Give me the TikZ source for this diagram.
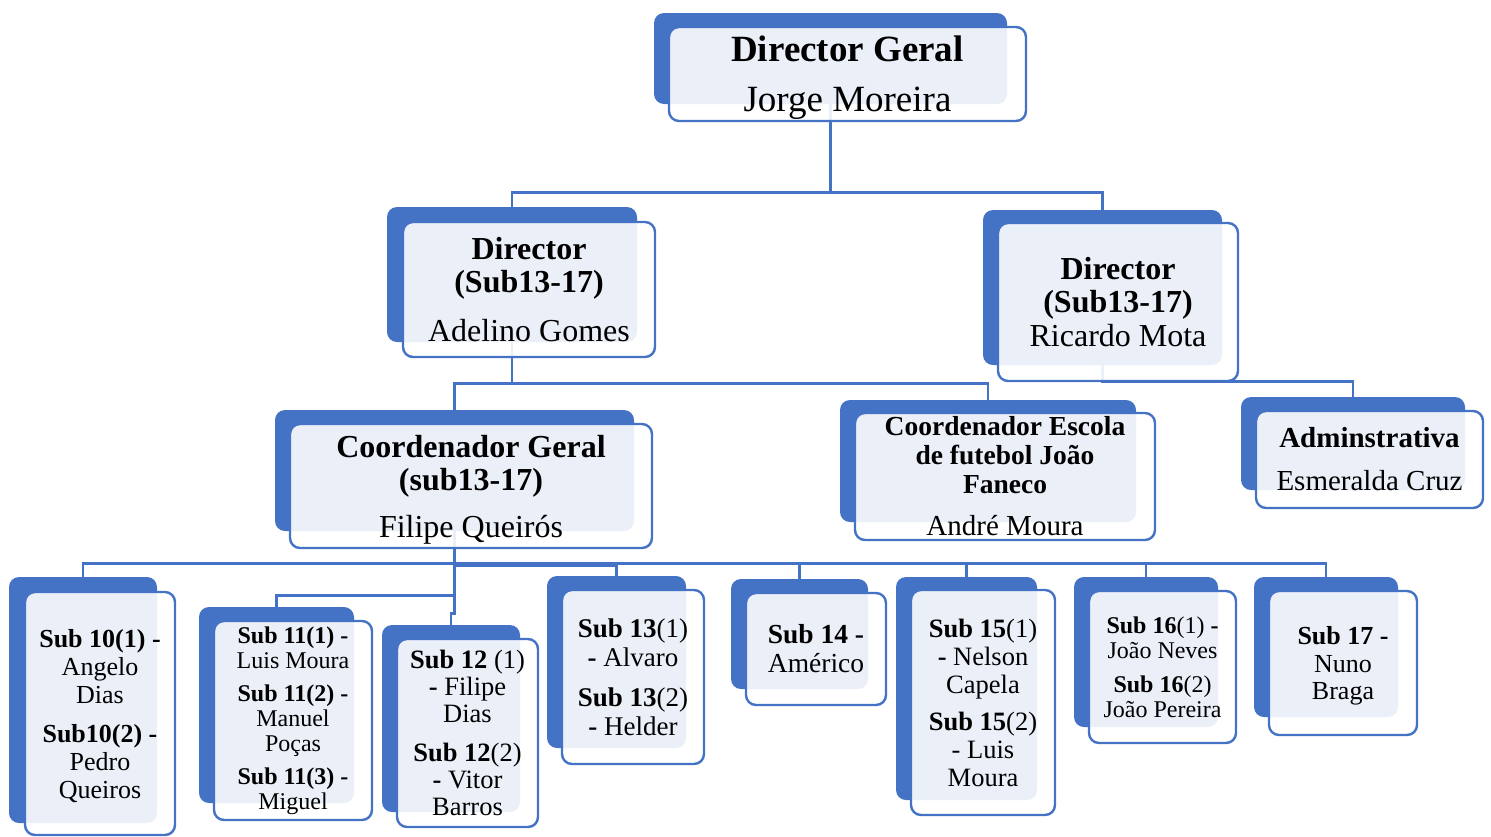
\documentclass[tikz,border=0pt]{standalone}
\usepackage{fontspec}
\setmainfont{Liberation Serif}
\usetikzlibrary{backgrounds}
\definecolor{orgblue}{HTML}{4472C4}

\begin{document}
\begin{tikzpicture}[x=0.5pt,y=-0.5pt,
    backbox/.style={fill=orgblue, rounded corners=5pt, inner sep=0pt},
    textbox/.style={draw=orgblue, line width=1.2pt, fill=white, fill opacity=0.89,
        text opacity=1, rounded corners=5pt, align=center, inner sep=0pt},
    link/.style={draw=orgblue, line width=1.2pt}]
    \useasboundingbox (0,0) rectangle (1491,836);

    % top level
    \node [backbox, minimum width=176.5pt, minimum height=45.5pt] (dg) at (830.5,58.5) {};
    \node [textbox, minimum width=178.5pt, minimum height=47pt, text depth=0pt, font=\fontsize{18.5}{22}\selectfont] (dg-t) at (847.5,74)
        {\textbf{Director Geral}\\[3pt] Jorge Moreira};

    % directors
    \node [backbox, minimum width=125pt, minimum height=67.5pt] (ad) at (512,274.5) {};
    \node [textbox, minimum width=126pt, minimum height=67.5pt, font=\fontsize{16}{16.5}\selectfont] (ad-t) at (529,289.5)
        {\textbf{Director}\\ \textbf{(Sub13-17)}\\[8pt] Adelino Gomes};
    \node [backbox, minimum width=119.5pt, minimum height=77.5pt] (rm) at (1102.5,287.5) {};
    \node [textbox, minimum width=120pt, minimum height=79pt, font=\fontsize{16}{16.75}\selectfont] (rm-t) at (1118,302)
        {\textbf{Director}\\ \textbf{(Sub13-17)}\\ Ricardo Mota};

    % coordinators
    \node [backbox, minimum width=179.5pt, minimum height=60.5pt] (cg) at (454.5,470.5) {};
    \node [textbox, minimum width=181pt, minimum height=62pt, text depth=0pt, font=\fontsize{16}{16.5}\selectfont] (cg-t) at (471,486)
        {\textbf{Coordenador Geral}\\ \textbf{(sub13-17)}\\[7pt] Filipe Queirós};
    \node [backbox, minimum width=148pt, minimum height=61pt] (ce) at (988,461) {};
    \node [textbox, minimum width=150pt, minimum height=63.5pt, font=\fontsize{13.75}{14.5}\selectfont] (ce-t) at (1005,476.5)
        {\textbf{Coordenador Escola}\\ \textbf{de futebol João}\\ \textbf{Faneco}\\[6.5pt] {\fontsize{14.5}{14.5}\selectfont André Moura}};
    \node [backbox, minimum width=112pt, minimum height=46.5pt] (adm) at (1353,443.5) {};
    \node [textbox, minimum width=113.5pt, minimum height=48.5pt, font=\fontsize{14.5}{15}\selectfont] (adm-t) at (1369.5,459.5)
        {\textbf{Adminstrativa}\\[6.5pt] Esmeralda Cruz};

    % age groups
    \node [backbox, minimum width=74pt, minimum height=123pt] (s10) at (83,700) {};
    \node [textbox, minimum width=75pt, minimum height=121.5pt, text depth=0pt, font=\fontsize{13}{14}\selectfont] (s10-t) at (100,713.5)
        {\textbf{Sub 10(1) -}\\ Angelo\\ Dias\\[5.5pt] \textbf{Sub10(2) -}\\ Pedro\\ Queiros};
    \node [backbox, minimum width=77.5pt, minimum height=98pt] (s11) at (276.5,705) {};
    \node [textbox, minimum width=79pt, minimum height=99.5pt, font=\fontsize{12}{12.5}\selectfont] (s11-t) at (293,720.5)
        {\textbf{Sub 11(1) -}\\ Luis Moura\\[4pt] \textbf{Sub 11(2) -}\\ Manuel\\ Poças\\[4pt] \textbf{Sub 11(3) -}\\ Miguel};
    \node [backbox, minimum width=69pt, minimum height=93.5pt] (s12) at (451,718.5) {};
    \node [textbox, minimum width=70.5pt, minimum height=94pt, font=\fontsize{13.25}{13.5}\selectfont] (s12-t) at (467.5,733)
        {\textbf{Sub 12} (1)\\ \textbf{-} Filipe\\ Dias\\[6pt] \textbf{Sub 12}(2)\\ \textbf{-} Vitor\\ Barros};
    \node [backbox, minimum width=69.5pt, minimum height=86pt] (s13) at (616.5,662) {};
    \node [textbox, minimum width=71pt, minimum height=87pt, font=\fontsize{13.5}{14.5}\selectfont] (s13-t) at (633,677)
        {\textbf{Sub 13}(1)\\ \textbf{-} Alvaro\\[5.5pt] \textbf{Sub 13}(2)\\ \textbf{-} Helder};
    \node [backbox, minimum width=68.5pt, minimum height=55pt] (s14) at (799.5,634) {};
    \node [textbox, minimum width=70pt, minimum height=56pt, font=\fontsize{13.75}{14.5}\selectfont] (s14-t) at (816,649)
        {\textbf{Sub 14 -}\\ Américo};
    \node [backbox, minimum width=70.5pt, minimum height=111.5pt] (s15) at (966.5,688.5) {};
    \node [textbox, minimum width=72pt, minimum height=112.5pt, font=\fontsize{13.25}{14}\selectfont] (s15-t) at (983,702.5)
        {\textbf{Sub 15}(1)\\ \textbf{-} Nelson\\ Capela\\[4.5pt] \textbf{Sub 15}(2)\\ - Luis\\ Moura};
    \node [backbox, minimum width=72pt, minimum height=75pt] (s16) at (1146,652) {};
    \node [textbox, minimum width=73.5pt, minimum height=76pt, font=\fontsize{12}{12.5}\selectfont] (s16-t) at (1162.5,667)
        {\textbf{Sub 16}(1) \textbf{-}\\ João Neves\\[4.5pt] \textbf{Sub 16}(2)\\ João Pereira};
    \node [backbox, minimum width=72pt, minimum height=70pt] (s17) at (1326,647) {};
    \node [textbox, minimum width=74pt, minimum height=72pt, text depth=0pt, font=\fontsize{13}{13.75}\selectfont] (s17-t) at (1343,663)
        {\textbf{Sub 17 -}\\ Nuno\\ Braga};

    % connectors behind the boxes
    \begin{pgfonlayer}{background}
        \draw [link] (dg.south) -- ++(0,88) coordinate (busdir) -| (ad.north);
        \draw [link] (busdir) -| (rm.north);
        \draw [link] (ad.south) -- ++(0,41) coordinate (buscoord) -| (cg.north);
        \draw [link] (buscoord) -| (ce.north);
        \draw [link] (rm.south) -- ++(0,16) -| (adm.north);
        \draw [link] (cg.south) -- ++(0,32) coordinate (bussub) -| (s10.north);
        \draw [link] (cg.south) -- ++(0,64) -| (s11.north);
        \draw [link] (cg.south) -- ++(0,82) -| (s12.north);
        \draw [link] (cg.south) -- ++(0,34) -| (s13.north);
        \draw [link] (bussub) -| (s14.north);
        \draw [link] (bussub) -| (s15.north);
        \draw [link] (bussub) -| (s16.north);
        \draw [link] (bussub) -| (s17.north);
    \end{pgfonlayer}
\end{tikzpicture}
\end{document}
